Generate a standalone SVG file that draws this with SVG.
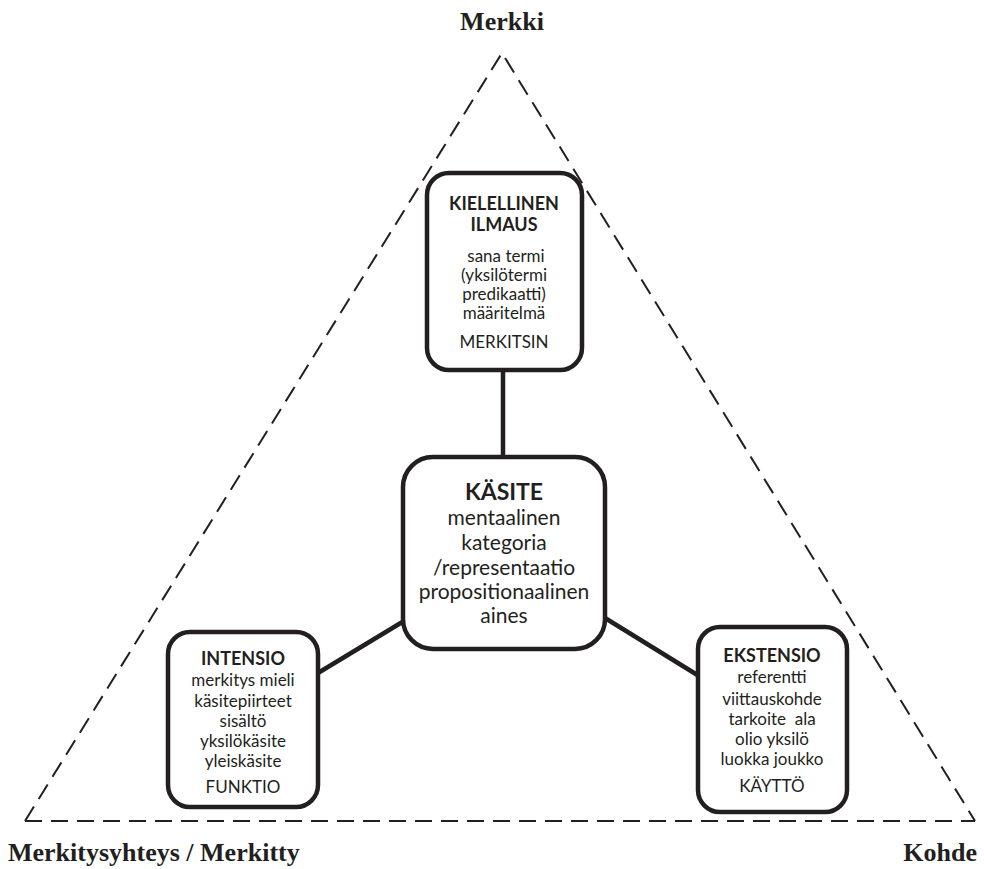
<svg xmlns="http://www.w3.org/2000/svg" width="984" height="869" viewBox="0 0 984 869">
  <style>
    .bg { fill: #ffffff; }
    .tri { fill: none; stroke: #231f20; stroke-width: 2; stroke-dasharray: 17 9; }
    .box { fill: #ffffff; stroke: #231f20; stroke-width: 4.5; }
    .link { stroke: #231f20; stroke-width: 4.5; fill: none; }
    .corner { font-family: "Liberation Serif", "Times New Roman", serif; font-weight: bold; font-size: 26px; fill: #231f20; }
    .t { font-family: Lato, "Liberation Sans", sans-serif; fill: #231f20; text-anchor: middle; }
    .h { font-weight: bold; font-size: 18px; }
    .b { font-size: 17px; }
    .ch { font-weight: bold; font-size: 23px; }
    .cb { font-size: 21px; }
  </style>
  <rect class="bg" x="0" y="0" width="984" height="869"/>

  <!-- dashed semiotic triangle -->
  <g id="triangle">
    <path class="tri" d="M25,821 L502,53 L975,821"/>
    <path class="tri" d="M25,821 L975,821"/>
  </g>

  <!-- corner labels -->
  <text class="corner" x="502" y="30" text-anchor="middle">Merkki</text>
  <text class="corner" x="8" y="861">Merkitysyhteys / Merkitty</text>
  <text class="corner" x="977" y="861" text-anchor="end">Kohde</text>

  <!-- connectors between the concept and its three aspects -->
  <g id="connectors">
    <line class="link" x1="503" y1="370" x2="503" y2="457"/>
    <line class="link" x1="318" y1="673" x2="404" y2="621"/>
    <line class="link" x1="605" y1="618" x2="699" y2="676"/>
  </g>

  <g id="kielellinen-ilmaus">
    <rect class="box" x="427" y="173" width="155" height="197" rx="22"/>
    <text class="t h" x="504" y="210">KIELELLINEN</text>
    <text class="t h" x="504" y="231">ILMAUS</text>
    <text class="t b" x="506" y="262">sana termi</text>
    <text class="t b" x="504" y="281">(yksilötermi</text>
    <text class="t b" x="504" y="300">predikaatti)</text>
    <text class="t b" x="504" y="319">määritelmä</text>
    <text class="t b" x="504" y="348">MERKITSIN</text>
  </g>

  <g id="kasite">
    <rect class="box" x="403" y="457" width="202" height="192" rx="30"/>
    <text class="t ch" x="504" y="500">KÄSITE</text>
    <text class="t cb" x="504" y="525">mentaalinen</text>
    <text class="t cb" x="504" y="550">kategoria</text>
    <text class="t cb" x="504" y="575">/representaatio</text>
    <text class="t cb" x="504" y="599">propositionaalinen</text>
    <text class="t cb" x="504" y="623">aines</text>
  </g>

  <g id="intensio">
    <rect class="box" x="168" y="632" width="150" height="175" rx="22"/>
    <text class="t h" x="243" y="665">INTENSIO</text>
    <text class="t b" x="243" y="686">merkitys mieli</text>
    <text class="t b" x="243" y="707">käsitepiirteet</text>
    <text class="t b" x="243" y="727">sisältö</text>
    <text class="t b" x="243" y="747">yksilökäsite</text>
    <text class="t b" x="243" y="767">yleiskäsite</text>
    <text class="t b" x="243" y="793">FUNKTIO</text>
  </g>

  <g id="ekstensio">
    <rect class="box" x="698" y="627" width="149" height="185" rx="22"/>
    <text class="t h" x="772" y="662">EKSTENSIO</text>
    <text class="t b" x="772" y="683">referentti</text>
    <text class="t b" x="772" y="705">viittauskohde</text>
    <text class="t b" x="772" y="725" xml:space="preserve">tarkoite  ala</text>
    <text class="t b" x="772" y="745">olio yksilö</text>
    <text class="t b" x="772" y="765">luokka joukko</text>
    <text class="t b" x="772" y="792">KÄYTTÖ</text>
  </g>
</svg>
